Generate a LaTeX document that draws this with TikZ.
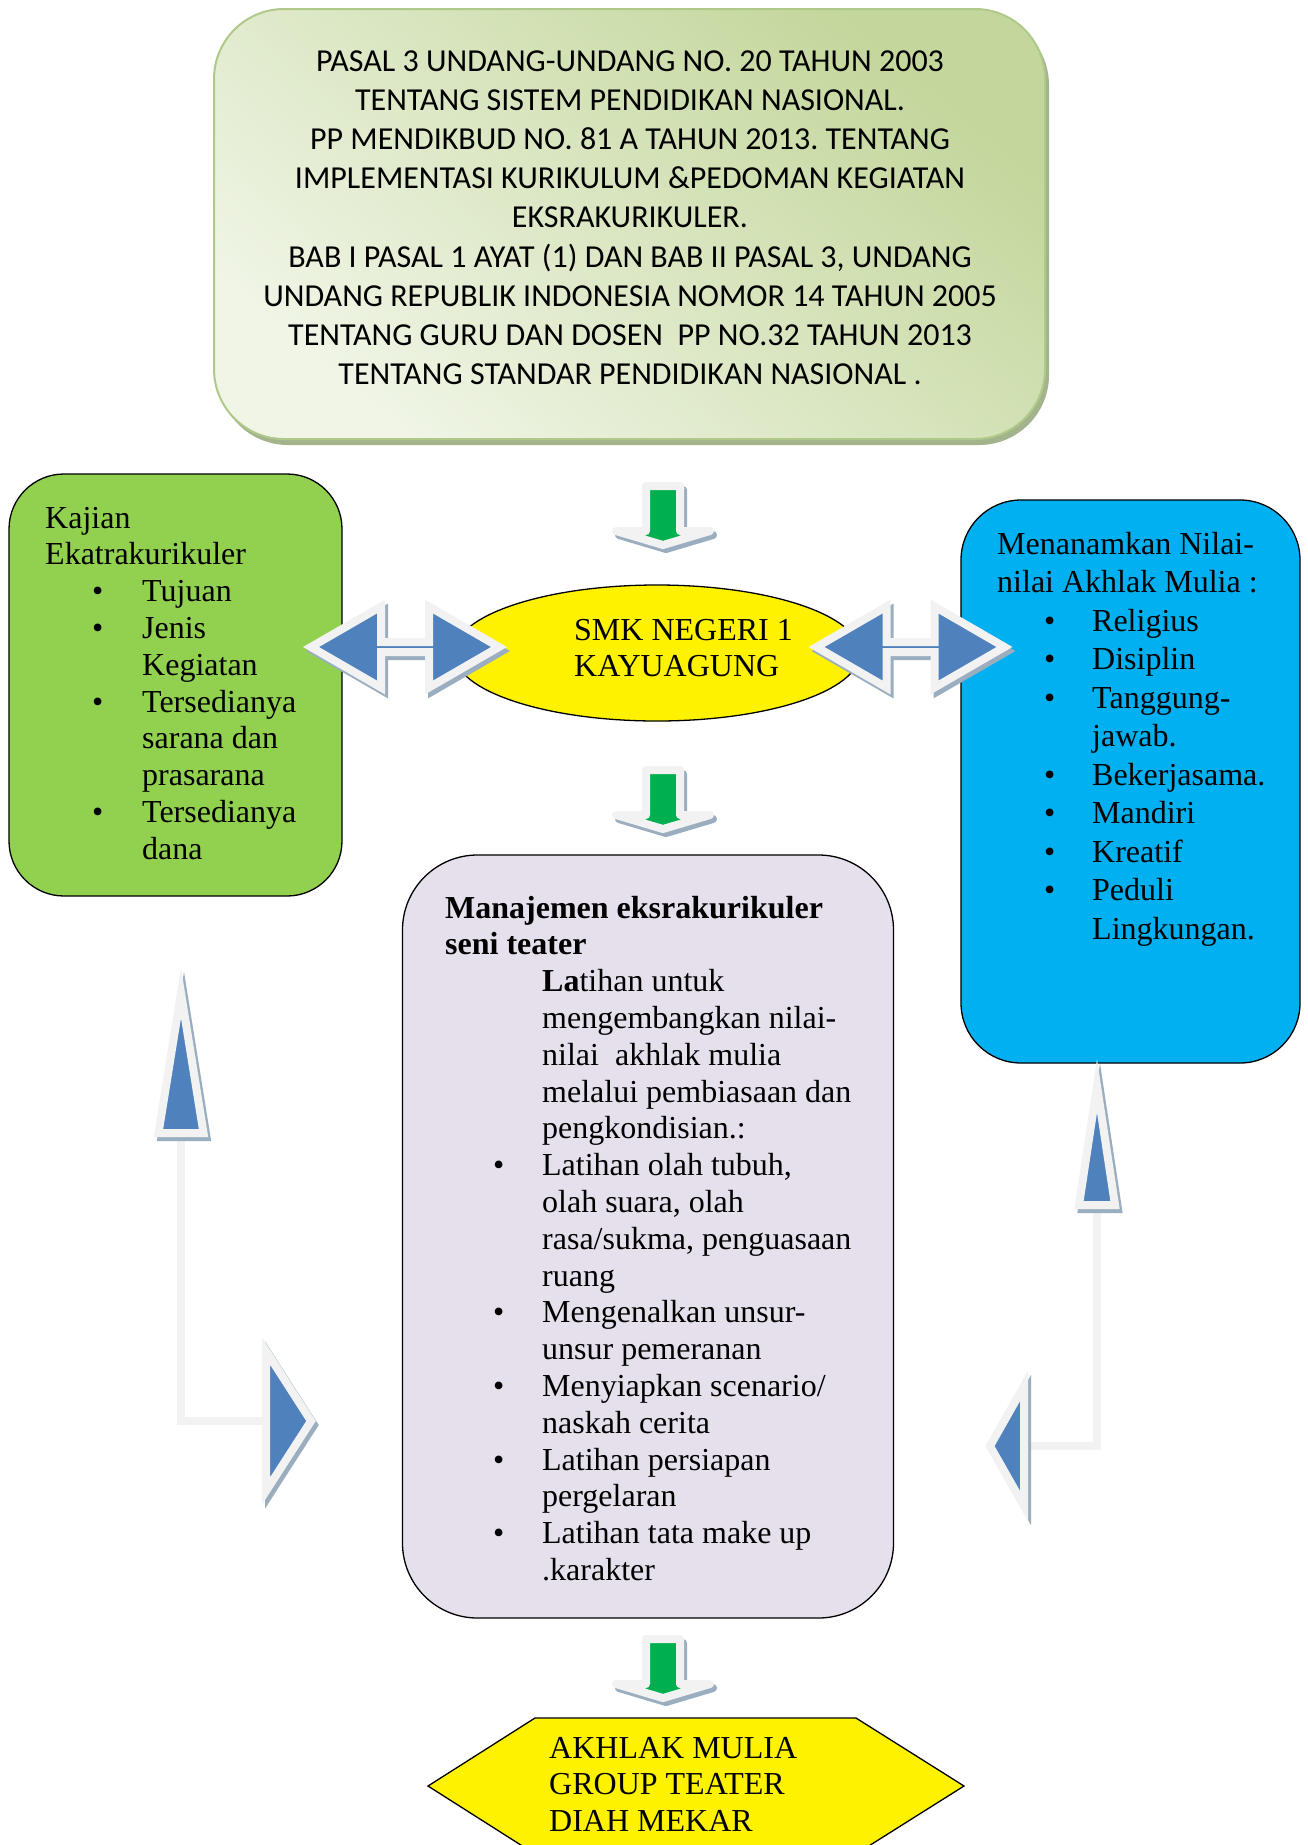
\documentclass[tikz,border=0pt]{standalone}
\usepackage{fontspec}
\setmainfont{Liberation Serif}
\newfontfamily\calfont{Carlito}
\usetikzlibrary{shapes.geometric}
\frenchspacing
\definecolor{gfill}{HTML}{92D050}
\definecolor{bfill}{HTML}{00B0F0}
\definecolor{lav}{HTML}{E5E0EC}
\definecolor{arrblue}{HTML}{4F81BD}
\definecolor{arrgreen}{HTML}{00B050}
\definecolor{arrline}{HTML}{F2F2F2}
\definecolor{arrshadow}{HTML}{9BAEC0}
\definecolor{elbshadow}{HTML}{B8C2CC}
\definecolor{topdark}{HTML}{C3D69B}
\definecolor{toplight}{HTML}{F0F5E6}
\definecolor{topline}{HTML}{B0C98A}
\definecolor{topshadow}{HTML}{A3B48C}
\newcommand{\bul}[2]{\makebox[#1pt][l]{\hspace*{#2pt}\textbullet}}
\newcommand{\dblarrow}[2]{%
\begin{scope}[shift={(#1,#2)}]
 \path[blockshadow, shift={(3,4)}] (-94,0) -- (-24,-40.5) -- (-24,-5) -- (24,-5) -- (24,-40.5) -- (94,0) -- (24,40.5) -- (24,5) -- (-24,5) -- (-24,40.5) -- cycle;
 \path[blueblock] (-94,0) -- (-24,-40.5) -- (-24,-5) -- (24,-5) -- (24,-40.5) -- (94,0) -- (24,40.5) -- (24,5) -- (-24,5) -- (-24,40.5) -- cycle;
\end{scope}}
\newcommand{\greendown}[2]{%
\begin{scope}[shift={(#1,#2)}]
 \path[greenshadow, shift={(3,4)}] (-17,0) -- (17,0) -- (17,45) -- (47,45) -- (0,59) -- (-47,45) -- (-17,45) -- cycle;
 \path[greenblock] (-17,0) -- (17,0) -- (17,45) -- (47,45) -- (0,59) -- (-47,45) -- (-17,45) -- cycle;
\end{scope}}
\begin{document}
\begin{tikzpicture}[x=1pt,y=-1pt,
  box/.style={draw=black, line width=1.3pt, rectangle, inner sep=0pt},
  txt/.style={inner sep=0pt, anchor=base west},
  blueblock/.style={fill=arrblue, draw=arrline, line width=8pt, line join=miter, miter limit=10},
  blockshadow/.style={fill=arrshadow, draw=arrshadow, line width=8pt, line join=miter, miter limit=10},
  greenblock/.style={fill=arrgreen, draw=arrline, line width=8pt, line join=round},
  greenshadow/.style={fill=arrshadow, draw=arrshadow, line width=8pt, line join=round},
  shaftline/.style={draw=arrline, line width=8pt, line join=miter},
  shaftshadow/.style={draw=elbshadow, line width=8pt, line join=miter},
  topbox/.style={rectangle, rounded corners=70pt, minimum width=831pt, minimum height=430pt,
    draw=topline, line width=2pt, top color=topdark, bottom color=toplight, shading angle=-40, inner sep=0pt},
  bodyfont/.style={font=\fontsize{32}{36.8}\selectfont}]
\useasboundingbox (0,0) rectangle (1307,1845);

% ---- top box ----
\fill[topshadow, rounded corners=70pt] (218,15) rectangle (1049,445);
\node[topbox] (law) at (629.5,224) {};
\node[inner sep=0pt, anchor=base, font=\calfont\fontsize{32}{39.2}\selectfont] (lawtext) at (630,71) {\begin{tabular}[t]{@{}c@{}}
PASAL 3 UNDANG-UNDANG NO. 20 TAHUN 2003\\
TENTANG SISTEM PENDIDIKAN NASIONAL.\\
PP MENDIKBUD NO. 81 A TAHUN 2013. TENTANG\\
IMPLEMENTASI KURIKULUM \&PEDOMAN KEGIATAN\\
EKSRAKURIKULER.\\
BAB I PASAL 1 AYAT (1) DAN BAB II PASAL 3, UNDANG\\
UNDANG REPUBLIK INDONESIA NOMOR 14 TAHUN 2005\\
TENTANG GURU DAN DOSEN~ PP NO.32 TAHUN 2013\\
TENTANG STANDAR PENDIDIKAN NASIONAL .
\end{tabular}};

% ---- left green box ----
\node[box, fill=gfill, minimum width=333pt, minimum height=422pt, rounded corners=55pt] (kajian) at (175.5,685) {};
\node[txt, bodyfont] (kajiantext) at (45,528) {\begin{tabular}[t]{@{}l@{}l@{}}
\multicolumn{2}{@{}l@{}}{Kajian}\\
\multicolumn{2}{@{}l@{}}{Ekatrakurikuler}\\
\bul{97}{47} & Tujuan\\
\bul{97}{47} & Jenis\\
 & Kegiatan\\
\bul{97}{47} & Tersedianya\\
 & sarana dan\\
 & prasarana\\
\bul{97}{47} & Tersedianya\\
 & dana
\end{tabular}};

% ---- right blue box ----
\node[box, fill=bfill, minimum width=339pt, minimum height=563pt, rounded corners=60pt] (nilai) at (1130.5,781.5) {};
\node[txt, font=\fontsize{32}{38.5}\selectfont] (nilaitext) at (997,554) {\begin{tabular}[t]{@{}l@{}l@{}}
\multicolumn{2}{@{}l@{}}{Menanamkan Nilai-}\\
\multicolumn{2}{@{}l@{}}{nilai Akhlak Mulia :}\\
\bul{95}{47} & Religius\\
\bul{95}{47} & Disiplin\\
\bul{95}{47} & Tanggung-\\
 & jawab.\\
\bul{95}{47} & Bekerjasama.\\
\bul{95}{47} & Mandiri\\
\bul{95}{47} & Kreatif\\
\bul{95}{47} & Peduli\\
 & Lingkungan.
\end{tabular}};

% ---- ellipse ----
\node[ellipse, draw=black, line width=1.3pt, fill=yellow, minimum width=406pt, minimum height=136pt, inner sep=0pt] (smk) at (657,653) {};
\node[txt, bodyfont] (smktext) at (574,640) {\begin{tabular}[t]{@{}l@{}}SMK NEGERI 1\\KAYUAGUNG\end{tabular}};

% ---- middle lavender box ----
\node[box, fill=lav, minimum width=491pt, minimum height=763pt, rounded corners=75pt] (manaj) at (648,1236.5) {};
\node[txt, bodyfont] (manajtext) at (445,918) {\begin{tabular}[t]{@{}l@{}l@{}}
\multicolumn{2}{@{}l@{}}{\bfseries Manajemen eksrakurikuler}\\
\multicolumn{2}{@{}l@{}}{\bfseries seni teater}\\
 & \textbf{La}tihan untuk\\
 & mengembangkan nilai-\\
 & nilai~ akhlak mulia\\
 & melalui pembiasaan dan\\
 & pengkondisian.:\\
\bul{97}{48} & Latihan olah tubuh,\\
 & olah suara, olah\\
 & rasa/sukma, penguasaan\\
 & ruang\\
\bul{97}{48} & Mengenalkan unsur-\\
 & unsur pemeranan\\
\bul{97}{48} & Menyiapkan scenario/\\
 & naskah cerita\\
\bul{97}{48} & Latihan persiapan\\
 & pergelaran\\
\bul{97}{48} & Latihan tata make up\\
 & .karakter
\end{tabular}};

% ---- bottom hexagon ----
\draw[fill=yellow, line width=1.3pt, line join=miter] (428,1786) -- (535,1718) -- (856,1718) -- (964,1786) -- (856,1854) -- (535,1854) -- cycle;
\node[txt, bodyfont] (akhlak) at (549,1758) {\begin{tabular}[t]{@{}l@{}}AKHLAK MULIA\\GROUP TEATER\\DIAH MEKAR\end{tabular}};

% ---- green down arrows ----
\greendown{663}{486}
\greendown{663}{770}
\greendown{663}{1639}

% ---- double arrows ----
\dblarrow{405}{647}
\dblarrow{910.5}{647}

% ---- left elbow arrow ----
\coordinate (lup) at (181,1133);
\coordinate (lcorner) at (181,1421);
\coordinate (lright) at (266,1421);
\draw[shaftshadow, shift={(3,3)}] (lup) -- (lcorner) -- (lright);
\draw[shaftline] (lup) -- (lcorner) -- (lright);
\path[blockshadow, shift={(3,4)}] (181,993) -- (203.5,1133) -- (158.5,1133) -- cycle;
\path[blueblock] (181,993) -- (203.5,1133) -- (158.5,1133) -- cycle;
\path[blockshadow, shift={(3,4)}] (266,1351) -- (311,1421) -- (266,1491) -- cycle;
\path[blueblock] (266,1351) -- (311,1421) -- (266,1491) -- cycle;

% ---- right elbow arrow ----
\coordinate (rup) at (1097,1205);
\coordinate (rcorner) at (1097,1446);
\coordinate (rleft) at (1024,1446);
\draw[shaftshadow, shift={(3,3)}] (rup) -- (rcorner) -- (rleft);
\draw[shaftline] (rup) -- (rcorner) -- (rleft);
\path[blockshadow, shift={(3,4)}] (1097,1086) -- (1115,1205) -- (1079,1205) -- cycle;
\path[blueblock] (1097,1086) -- (1115,1205) -- (1079,1205) -- cycle;
\path[blockshadow, shift={(3,4)}] (1024,1386) -- (990,1446) -- (1024,1506) -- cycle;
\path[blueblock] (1024,1386) -- (990,1446) -- (1024,1506) -- cycle;
\end{tikzpicture}
\end{document}
